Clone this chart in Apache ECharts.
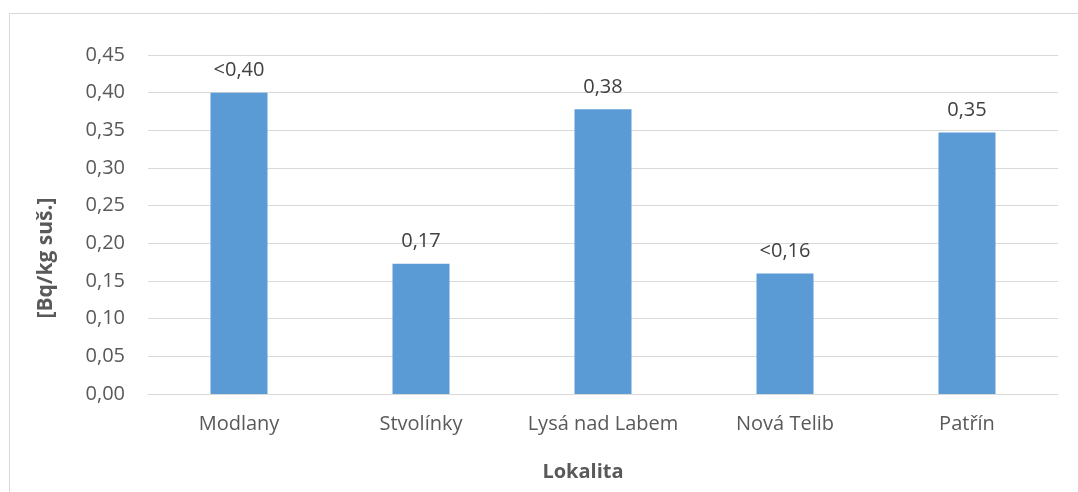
<!DOCTYPE html>
<html>
<head>
<meta charset="utf-8">
<style>
  html, body { margin: 0; padding: 0; background: #fff; }
  #chart { width: 1078px; height: 492px; }
</style>
<script src="https://cdn.jsdelivr.net/npm/echarts@6/dist/echarts.min.js"></script>
</head>
<body>
<div id="chart"></div>
<script>
// Sampling sites and measured activity
const categories = ['Modlany', 'Stvolínky', 'Lysá nad Labem', 'Nová Telib', 'Patřín'];
const values = [0.40, 0.173, 0.378, 0.16, 0.347];
// "<" marks results below the detection limit
const labelPrefixes = ['<', '', '', '<', ''];
const yTickLabels = ['0,00', '0,05', '0,10', '0,15', '0,20', '0,25', '0,30', '0,35', '0,40', '0,45'];
const xTitle = 'Lokalita';
const yTitle = '[Bq/kg suš.]';

const FONT = '"Open Sans", sans-serif';
const TEXT = '#595959';
const SIZE = 20;

const chart = echarts.init(document.getElementById('chart'), null, { renderer: 'canvas' });

chart.setOption({
  animation: false,
  backgroundColor: '#ffffff',
  grid: { left: 148, right: 20, top: 55, bottom: 98, containLabel: false },
  graphic: [
    // chart frame (top and left edges)
    { type: 'line', shape: { x1: 9.5, y1: 13.5, x2: 1078, y2: 13.5 }, style: { stroke: '#d9d9d9', lineWidth: 1 } },
    { type: 'line', shape: { x1: 9.5, y1: 13.5, x2: 9.5, y2: 492 }, style: { stroke: '#d9d9d9', lineWidth: 1 } },
    // axis titles
    {
      type: 'text', x: 583, y: 472,
      style: { text: xTitle, fontFamily: FONT, fontSize: SIZE, fontWeight: 'bold', fill: TEXT, align: 'center', verticalAlign: 'middle' }
    },
    {
      type: 'text', x: 46, y: 258, rotation: Math.PI / 2,
      style: { text: yTitle, fontFamily: FONT, fontSize: 21, fontWeight: 'bold', fill: TEXT, align: 'center', verticalAlign: 'middle' }
    }
  ],
  xAxis: {
    type: 'category',
    data: categories,
    axisLine: { lineStyle: { color: '#d9d9d9', width: 1 } },
    axisTick: { show: false },
    axisLabel: { interval: 0, fontFamily: FONT, fontSize: SIZE, color: TEXT, margin: 20 }
  },
  yAxis: {
    type: 'value',
    min: 0,
    max: 0.45,
    interval: 0.05,
    axisLine: { show: false },
    axisTick: { show: false },
    splitLine: { lineStyle: { color: '#d9d9d9', width: 1 } },
    axisLabel: {
      fontFamily: FONT, fontSize: SIZE, color: TEXT, margin: 23,
      formatter: (v) => yTickLabels[Math.round(v / 0.05)]
    }
  },
  series: [{
    type: 'bar',
    data: values,
    barWidth: 57,
    itemStyle: { color: '#5b9bd5' },
    label: {
      show: true,
      position: 'top',
      distance: 12,
      fontFamily: FONT,
      fontSize: SIZE,
      color: '#404040',
      formatter: (p) => labelPrefixes[p.dataIndex] + p.value.toFixed(2).replace('.', ',')
    }
  }]
});
</script>
</body>
</html>
